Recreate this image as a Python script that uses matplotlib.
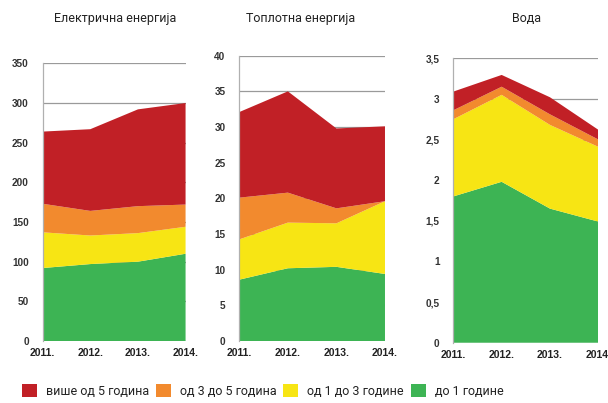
import matplotlib
matplotlib.use("Agg")
import matplotlib.pyplot as plt
from matplotlib.ticker import FuncFormatter

years = ["2011.", "2012.", "2013.", "2014."]
series_names = ["до 1 године", "од 1 до 3 године", "од 3 до 5 година", "више од 5 година"]
colors = ["#3db454", "#f7e514", "#f28a2e", "#c12026"]

# Electricity (values per age group, stacked bottom to top)
elec_green = [92, 97, 100, 110]
elec_yellow = [45, 36, 36, 34]
elec_orange = [36, 31, 34, 28]
elec_red = [91, 103, 122, 128]

# Heat
heat_green = [8.6, 10.2, 10.4, 9.4]
heat_yellow = [5.65, 6.4, 6.1, 10.2]
heat_orange = [5.85, 4.2, 2.1, 0.0]
heat_red = [12.0, 14.2, 11.2, 10.5]

# Water
water_green = [1.80, 1.98, 1.65, 1.49]
water_yellow = [0.95, 1.07, 1.03, 0.92]
water_orange = [0.11, 0.10, 0.13, 0.09]
water_red = [0.23, 0.145, 0.21, 0.12]

titles = ["Електрична енергија", "Топлотна енергија", "Вода"]
yticks_list = [list(range(0, 351, 50)), list(range(0, 41, 5)),
               [0, 0.5, 1, 1.5, 2, 2.5, 3, 3.5]]
ylims = [350, 40, 3.5]

data = [
    [elec_green, elec_yellow, elec_orange, elec_red],
    [heat_green, heat_yellow, heat_orange, heat_red],
    [water_green, water_yellow, water_orange, water_red],
]

fam = ["Roboto", "DejaVu Sans"]
plt.rcParams["font.family"] = fam
tick_fam = ["Liberation Sans", "DejaVu Sans"]

fig = plt.figure(figsize=(6.08, 4.03), dpi=100)
positions = [
    [0.0702, 0.1538, 0.235, 0.689],
    [0.3936, 0.1538, 0.2396, 0.708],
    [0.7456, 0.1496, 0.2385, 0.7058],
]
title_x = [0.189, 0.494, 0.866]

def fmt_comma(v, pos):
    return ("%g" % v).replace(".", ",")

handles = None
for i in range(3):
    ax = fig.add_axes(positions[i])
    x = list(range(len(years)))
    polys = ax.stackplot(x, *data[i], colors=colors, zorder=2, linewidth=0)
    if handles is None:
        handles = polys
    ax.set_xlim(0, 3)
    ax.set_ylim(0, ylims[i])
    ax.set_yticks(yticks_list[i])
    if i == 2:
        ax.yaxis.set_major_formatter(FuncFormatter(fmt_comma))
    ax.set_xticks(x)
    ax.set_xticklabels(years, fontsize=7.5, fontweight="bold", color="#222222",
                       family=tick_fam)
    for lab in ax.get_yticklabels():
        lab.set_fontsize(7.2)
        lab.set_fontweight("bold")
        lab.set_color("#333333")
        lab.set_family(tick_fam)
    ax.tick_params(axis="x", length=0, pad=5)
    ax.tick_params(axis="y", length=0, pad=10)
    ax.grid(axis="y", color="#9a9a9a", linewidth=0.9, zorder=1)
    ax.set_axisbelow(True)
    for s in ["top", "right", "bottom"]:
        ax.spines[s].set_visible(False)
    ax.spines["left"].set_color("#b0b0b0")
    ax.spines["left"].set_linewidth(0.9)
    fig.text(title_x[i], 0.955, titles[i], ha="center", va="center", fontsize=9,
             color="#222222")

order = [3, 2, 1, 0]
leg = fig.legend([handles[k] for k in order], [series_names[k] for k in order],
                 loc="center left", bbox_to_anchor=(0.036, 0.03), ncol=4,
                 frameon=False, fontsize=9, handlelength=1.2, handleheight=1.2,
                 handletextpad=0.72, columnspacing=0.55, borderpad=0, borderaxespad=0)
for t in leg.get_texts():
    t.set_color("#222222")

fig.savefig("out.png", dpi=100)
